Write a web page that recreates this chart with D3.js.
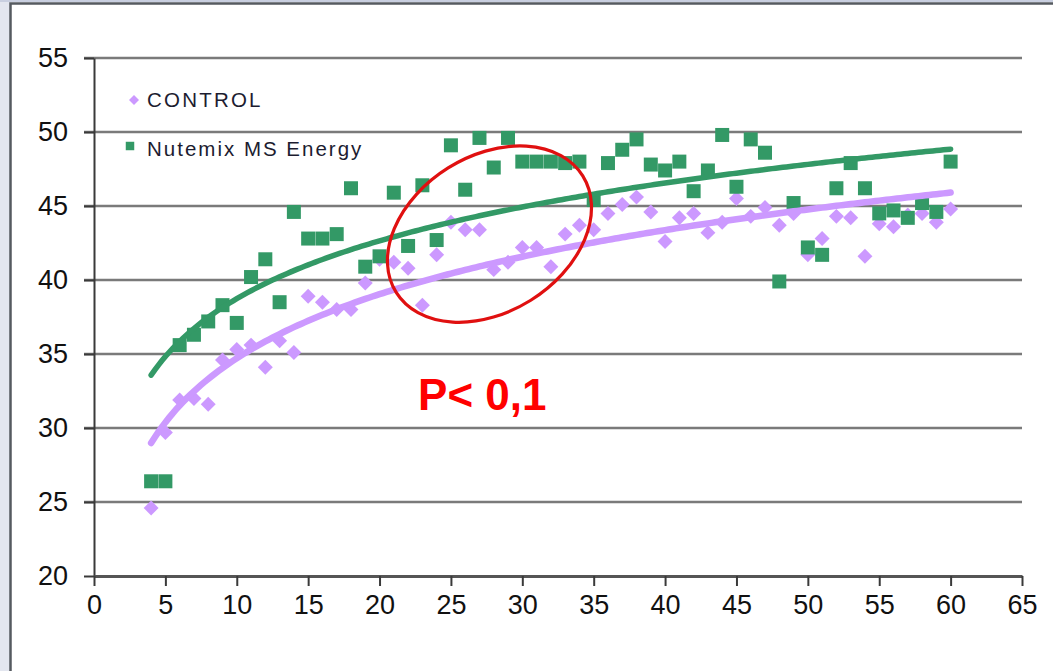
<!DOCTYPE html>
<html>
<head>
<meta charset="utf-8">
<script src="https://cdn.jsdelivr.net/npm/d3@7"></script>
<style>
  html, body { margin: 0; padding: 0; background: #ffffff; }
  svg { display: block; font-family: "Liberation Sans", Arial, sans-serif; }
</style>
</head>
<body>
<svg id="chart" width="1053" height="671"></svg>
<script>
// Days (x) shared by both series
const days = d3.range(4, 61);

// CONTROL group
const controlValues = [
  24.6, 29.7, 31.9, 32.0, 31.6, 34.6, 35.3, 35.6, 34.1, 35.9,
  35.1, 38.9, 38.5, 38.0, 38.0, 39.8, 41.4, 41.2, 40.8, 38.3,
  41.7, 43.9, 43.4, 43.4, 40.7, 41.2, 42.2, 42.2, 40.9, 43.1,
  43.7, 43.4, 44.5, 45.1, 45.6, 44.6, 42.6, 44.2, 44.5, 43.2,
  43.9, 45.5, 44.3, 44.9, 43.7, 44.5, 41.7, 42.8, 44.3, 44.2,
  41.6, 43.8, 43.6, 44.4, 44.5, 43.9, 44.8
];

// Nutemix MS Energy group
const nutemixValues = [
  26.4, 26.4, 35.6, 36.3, 37.2, 38.3, 37.1, 40.2, 41.4, 38.5,
  44.6, 42.8, 42.8, 43.1, 46.2, 40.9, 41.6, 45.9, 42.3, 46.4,
  42.7, 49.1, 46.1, 49.6, 47.6, 49.6, 48.0, 48.0, 48.0, 47.9,
  48.0, 45.4, 47.9, 48.8, 49.5, 47.8, 47.4, 48.0, 46.0, 47.4,
  49.8, 46.3, 49.5, 48.6, 39.9, 45.2, 42.2, 41.7, 46.2, 47.9,
  46.2, 44.5, 44.7, 44.2, 45.2, 44.6, 48.0
];

const seriesNames = ["CONTROL", "Nutemix MS Energy"];
const xTicks = d3.range(0, 66, 5);
const yTicks = d3.range(20, 56, 5);

// Annotation anchors in data units
const ellipseCenter = [27.7, 43.1];
const pLabel = "P< 0,1";
const pLabelAnchor = [22.7, 31.2];

const purple = "#cc99ff";
const green = "#339966";

const svg = d3.select("#chart");

// Window frame: grey strip on the left/top with a dark border line
svg.append("rect").attr("x", 0).attr("y", 0).attr("width", 1053).attr("height", 671).attr("fill", "#ffffff");
svg.append("rect").attr("x", 0).attr("y", 0).attr("width", 10).attr("height", 671).attr("fill", "#e3e6ef");
svg.append("rect").attr("x", 0).attr("y", 0).attr("width", 1053).attr("height", 2).attr("fill", "#c9cfe0");
svg.append("path").attr("d", "M10.5,671V3.5H1053").attr("fill", "none").attr("stroke", "#555a60").attr("stroke-width", 2.5);

const x = d3.scaleLinear().domain([0, 65]).range([94, 1022]);
const y = d3.scaleLinear().domain([20, 55]).range([576, 58]);

// Horizontal gridlines
svg.append("g")
  .selectAll("line")
  .data(yTicks.filter(v => v > 20))
  .join("line")
  .attr("x1", x(0) - 10).attr("x2", x(65))
  .attr("y1", d => y(d)).attr("y2", d => y(d))
  .attr("stroke", "#7a7a7a").attr("stroke-width", 2.6);

// Y axis
const yAxis = svg.append("g")
  .attr("transform", `translate(${x(0)},0)`)
  .call(d3.axisLeft(y).tickValues(yTicks).tickSize(10).tickPadding(16).tickSizeOuter(0));
yAxis.select(".domain").attr("stroke", "#3a3a3a").attr("stroke-width", 2);
yAxis.selectAll(".tick line").attr("stroke", "#3a3a3a").attr("stroke-width", 2);
yAxis.selectAll("text").attr("font-size", 27).attr("fill", "#111").attr("font-family", "Liberation Sans, Arial, sans-serif");

// X axis
const xAxis = svg.append("g")
  .attr("transform", `translate(0,${y(20)})`)
  .call(d3.axisBottom(x).tickValues(xTicks).tickSize(10).tickPadding(9).tickSizeOuter(0));
xAxis.select(".domain").attr("stroke", "#555").attr("stroke-width", 3);
xAxis.selectAll(".tick line").attr("stroke", "#3a3a3a").attr("stroke-width", 2);
xAxis.selectAll("text").attr("font-size", 27).attr("fill", "#111").attr("font-family", "Liberation Sans, Arial, sans-serif");

// Logarithmic least-squares trend: v = a*ln(day) + b
function logFit(xs, ys) {
  const lx = xs.map(Math.log);
  const mx = d3.mean(lx), my = d3.mean(ys);
  let sxy = 0, sxx = 0;
  lx.forEach((v, i) => { sxy += (v - mx) * (ys[i] - my); sxx += (v - mx) * (v - mx); });
  const a = sxy / sxx;
  return { a, b: my - a * mx };
}

const controlPts = days.map((d, i) => ({ x: d, v: controlValues[i] }));
const nutemixPts = days.map((d, i) => ({ x: d, v: nutemixValues[i] }));

const diamond = d3.symbol().type(d3.symbolSquare).size(112);
const square = d3.symbol().type(d3.symbolSquare).size(196);

// Control diamonds
svg.append("g")
  .selectAll("path")
  .data(controlPts)
  .join("path")
  .attr("d", diamond)
  .attr("transform", d => `translate(${x(d.x)},${y(d.v)}) rotate(45)`)
  .attr("fill", purple);

// Nutemix squares
svg.append("g")
  .selectAll("path")
  .data(nutemixPts)
  .join("path")
  .attr("d", square)
  .attr("transform", d => `translate(${x(d.x)},${y(d.v)})`)
  .attr("fill", green);

// Trend curves
const samples = d3.range(days[0], days[days.length - 1] + 0.001, 0.25);
const line = d3.line().x(d => x(d[0])).y(d => y(d[1]));
[[controlValues, purple, 6.5], [nutemixValues, green, 5.5]].forEach(([vals, col, w]) => {
  const f = logFit(days, vals);
  svg.append("path")
    .datum(samples.map(s => [s, f.a * Math.log(s) + f.b]))
    .attr("d", line)
    .attr("fill", "none")
    .attr("stroke", col)
    .attr("stroke-width", w)
    .attr("stroke-linecap", "round");
});

// Legend
const legend = svg.append("g");
legend.append("path").attr("d", d3.symbol().type(d3.symbolSquare).size(50))
  .attr("transform", "translate(134,100) rotate(45)").attr("fill", purple);
legend.append("text").attr("x", 147).attr("y", 107).text(seriesNames[0])
  .attr("font-size", 20.5).attr("letter-spacing", 2.2).attr("fill", "#1c1c30");
legend.append("path").attr("d", d3.symbol().type(d3.symbolSquare).size(72))
  .attr("transform", "translate(130,146)").attr("fill", green);
legend.append("text").attr("x", 147).attr("y", 156).text(seriesNames[1])
  .attr("font-size", 20.5).attr("letter-spacing", 2.0).attr("fill", "#1c1c30");

// Highlight ellipse around the diverging region
svg.append("ellipse")
  .attr("cx", 0).attr("cy", 0).attr("rx", 110).attr("ry", 78)
  .attr("transform", `translate(${x(ellipseCenter[0])},${y(ellipseCenter[1])}) rotate(-32)`)
  .attr("fill", "none").attr("stroke", "#e01010").attr("stroke-width", 3.2);

// Significance label
svg.append("text")
  .attr("x", x(pLabelAnchor[0])).attr("y", y(pLabelAnchor[1]))
  .text(pLabel)
  .attr("font-size", 44).attr("font-weight", "bold").attr("fill", "#ff0000");
</script>
</body>
</html>
